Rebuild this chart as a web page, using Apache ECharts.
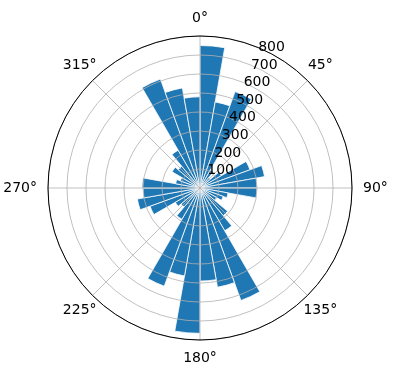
<!DOCTYPE html>
<html>
<head>
<meta charset="utf-8">
<script src="https://cdn.jsdelivr.net/npm/echarts@6/dist/echarts.min.js"></script>
<style>
  html, body { margin: 0; padding: 0; background: #fff; }
  #chart { width: 396px; height: 380px; }
</style>
</head>
<body>
<div id="chart"></div>
<script>
  // direction bins, 10 degrees each, starting at north and going clockwise
  let binStarts = ['0', '10', '20', '30', '40', '50', '60', '70', '80',
    '90', '100', '110', '120', '130', '140', '150', '160', '170',
    '180', '190', '200', '210', '220', '230', '240', '250', '260',
    '270', '280', '290', '300', '310', '320', '330', '340', '350']
  let counts = [750, 460, 540, 110, 70, 130, 280, 345, 300,
    300, 150, 130, 100, 190, 260, 630, 530, 490,
    765, 470, 550, 190, 130, 150, 280, 335, 300,
    305, 130, 110, 170, 150, 230, 610, 535, 480]
  let mainTicks = [0, 90, 180, 270]
  let diagTicks = [45, 135, 225, 315]
  let radiusTicks = [100, 200, 300, 400, 500, 600, 700, 800]

  let chart = echarts.init(document.getElementById('chart'))
  let font = 'DejaVu Sans'
  let center = [200, 188]
  let radius = 152

  function hiddenRadius(idx) {
    return {
      polarIndex: idx,
      type: 'value',
      min: 0,
      max: 800,
      axisLine: { show: false },
      axisTick: { show: false },
      axisLabel: { show: false },
      splitLine: { show: false }
    }
  }
  // angle labels only; echarts anchors them by a corner, so the diagonal
  // ones get a square rich box to sit centred like matplotlib's
  function angleLabels(idx, ticks, margin, boxed) {
    return {
      polarIndex: idx,
      type: 'value',
      min: 0,
      max: 360,
      interval: 45,
      startAngle: 90,
      clockwise: true,
      z: 6,
      axisLine: { show: false },
      axisTick: { show: false },
      splitLine: { show: false },
      axisLabel: {
        show: true,
        margin: margin,
        color: '#000',
        fontFamily: font,
        fontSize: 14,
        formatter: function (v) {
          if (ticks.indexOf(v) < 0) return ''
          return boxed ? '{d|' + v + '°}' : v + '°'
        },
        rich: {
          d: {
            width: 44,
            lineHeight: 48,
            align: 'center',
            color: '#000',
            fontFamily: font,
            fontSize: 14
          }
        }
      }
    }
  }

  let option = {
    animation: false,
    polar: [
      { center: center, radius: radius },
      { center: center, radius: radius },
      { center: center, radius: radius },
      { center: center, radius: radius },
      { center: center, radius: radius }
    ],
    angleAxis: [
      {
        polarIndex: 0,
        type: 'category',
        data: binStarts,
        startAngle: 90,
        clockwise: true,
        boundaryGap: true,
        axisLine: { show: false },
        axisTick: { show: false },
        axisLabel: { show: false },
        splitLine: { show: false }
      },
      {
        polarIndex: 1,
        type: 'value',
        min: 0,
        max: 360,
        interval: 45,
        startAngle: 90,
        clockwise: true,
        z: 5,
        axisLine: { show: true, lineStyle: { color: '#000', width: 1 } },
        axisTick: { show: false },
        axisLabel: { show: false },
        splitLine: { show: true, lineStyle: { color: '#b0b0b0', width: 0.8 } }
      },
      {
        // only used to put the radius labels on the 22.5 degree line
        polarIndex: 2,
        type: 'value',
        min: 0,
        max: 360,
        startAngle: 67.5,
        clockwise: true,
        axisLine: { show: false },
        axisTick: { show: false },
        axisLabel: { show: false },
        splitLine: { show: false }
      },
      angleLabels(3, mainTicks, 11, false),
      angleLabels(4, diagTicks, -13, true)
    ],
    radiusAxis: [
      hiddenRadius(0),
      {
        polarIndex: 1,
        type: 'value',
        min: 0,
        max: 800,
        interval: 100,
        z: 5,
        axisLine: { show: false },
        axisTick: { show: false },
        axisLabel: { show: false },
        splitLine: { show: true, lineStyle: { color: '#b0b0b0', width: 0.8 } }
      },
      {
        polarIndex: 2,
        type: 'value',
        min: 0,
        max: 800,
        interval: 100,
        z: 6,
        axisLine: { show: false },
        axisTick: { show: false },
        splitLine: { show: false },
        axisLabel: {
          show: true,
          showMinLabel: false,
          margin: 0,
          align: 'left',
          verticalAlign: 'middle',
          color: '#000',
          fontFamily: font,
          fontSize: 14,
          formatter: function (v) {
            return radiusTicks.indexOf(v) >= 0 ? String(v) : ''
          }
        }
      },
      hiddenRadius(3),
      hiddenRadius(4)
    ],
    series: [
      {
        type: 'bar',
        coordinateSystem: 'polar',
        polarIndex: 0,
        data: counts,
        barCategoryGap: '0%',
        itemStyle: { color: '#1f77b4', borderColor: '#fff', borderWidth: 0.8 }
      }
    ]
  }
  chart.setOption(option)
</script>
</body>
</html>
